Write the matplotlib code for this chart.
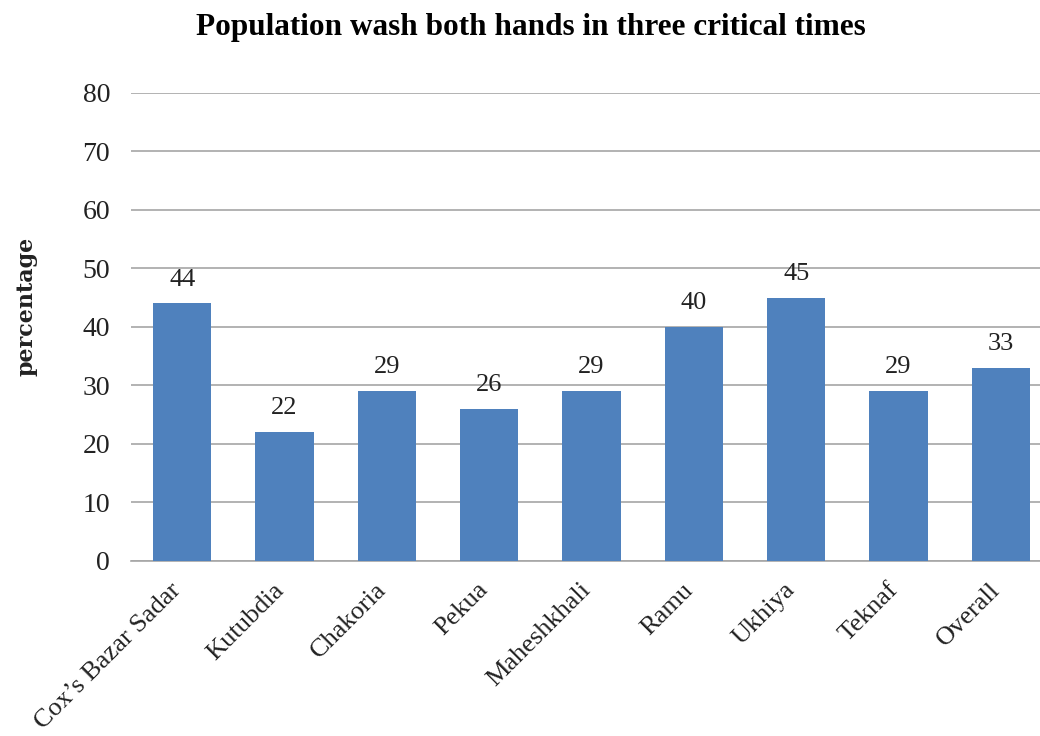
import matplotlib
matplotlib.use("Agg")
import matplotlib.pyplot as plt
from matplotlib.transforms import ScaledTranslation

categories = ["Cox\u2019s Bazar Sadar", "Kutubdia", "Chakoria", "Pekua", "Maheshkhali",
              "Ramu", "Ukhiya", "Teknaf", "Overall"]
values = [44, 22, 29, 26, 29, 40, 45, 29, 33]
yticks = [0, 10, 20, 30, 40, 50, 60, 70, 80]

plt.rcParams['font.family'] = ['Liberation Serif', 'DejaVu Serif']

fig = plt.figure(figsize=(10.4, 7.36), dpi=100)
ax = fig.add_axes([131 / 1040, 0.238, 921 / 1040, 0.636])

x = range(len(categories))
bars = ax.bar(x, values, width=0.57, color='#4F81BD', zorder=3)
for xi, v in zip(x, values):
    ax.text(xi, v + 2.2, str(v), ha='center', va='bottom', fontsize=19, color='#222222')

ax.set_xlim(-0.5, len(categories) - 0.5)
ax.set_ylim(0, 80)
ax.set_yticks(yticks)
ax.yaxis.grid(True, color='#A6A6A6', linewidth=1.2, zorder=0)
ax.set_axisbelow(True)
for s in ['top', 'right', 'left']:
    ax.spines[s].set_visible(False)
ax.spines['bottom'].set_color('#A6A6A6')
ax.spines['bottom'].set_linewidth(1.2)
ax.tick_params(axis='y', length=0, labelsize=20, pad=15, labelcolor='#222222')
ax.tick_params(axis='x', length=0, labelsize=19, pad=13, labelcolor='#222222')
ax.set_xticks(list(x))
ax.set_xticklabels(categories, rotation=45, ha='right', rotation_mode='anchor')
offset = ScaledTranslation(-12 / 100, 0, fig.dpi_scale_trans)
for lab in ax.get_xticklabels():
    lab.set_transform(lab.get_transform() + offset)

fig.text(27 / 1040, 1 - 306 / 736, 'percentage', rotation=90, ha='center', va='center',
         fontsize=16, fontweight='bold', family=['DejaVu Serif'], color='#222222')
fig.text(0.51, 1 - 27 / 736, 'Population wash both hands in three critical times', ha='center',
         va='center', fontsize=22.5, fontweight='bold')

fig.savefig('out.png', dpi=100)
